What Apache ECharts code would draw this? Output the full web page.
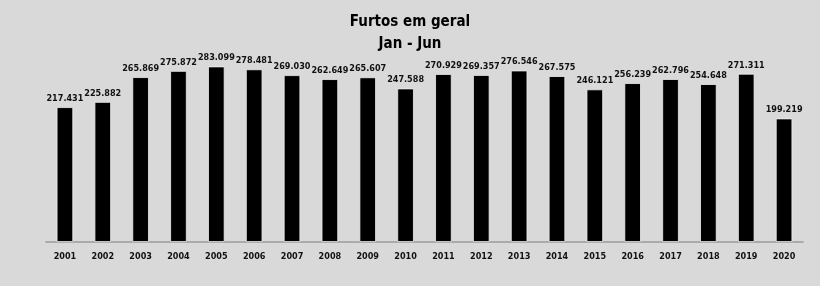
<!DOCTYPE html>
<html><head><meta charset="utf-8">
<script src="https://cdn.jsdelivr.net/npm/echarts@6/dist/echarts.min.js"></script>
<style>html,body{margin:0;padding:0;background:#d9d9d9}#c{width:820px;height:286px}</style>
</head><body><div id="c"></div>
<script>
const years = ['2001','2002','2003','2004','2005','2006','2007','2008','2009','2010','2011','2012','2013','2014','2015','2016','2017','2018','2019','2020'];
const furtos = [217431,225882,265869,275872,283099,278481,269030,262649,265607,247588,270929,269357,276546,267575,246121,256239,262796,254648,271311,199219];
const titleLines = ['Furtos em geral','Jan - Jun'];
const fmt = v => String(v).replace(/\B(?=(\d{3})+(?!\d))/g,'.');
const FONT = 'DejaVu Sans Condensed, Liberation Sans';
const chart = echarts.init(document.getElementById('c'));
chart.setOption({
  backgroundColor:'#d9d9d9',
  animation:false,
  title:{text:titleLines.join('\n'),left:'center',top:6,
    textStyle:{fontFamily:FONT,fontWeight:'bold',fontSize:15,color:'#000',lineHeight:22}},
  grid:{left:46,right:17,top:56,bottom:44},
  xAxis:{type:'category',data:years,
    axisLine:{lineStyle:{color:'#9a9a9a',width:1.5}},
    axisTick:{lineStyle:{color:'#9a9a9a'},length:4},
    axisLabel:{color:'#111',fontFamily:FONT,fontWeight:'bold',fontSize:9,margin:10}},
  yAxis:{type:'value',min:0,max:300000,show:false,splitLine:{show:false}},
  series:[{type:'bar',data:furtos,barWidth:16.5,
    itemStyle:{color:'#000',borderColor:'#eeeeee',borderWidth:0.8},
    label:{show:true,position:'top',distance:4,formatter:p=>fmt(p.value),color:'#111',
      fontFamily:FONT,fontWeight:'bold',fontSize:9}}]
});
</script></body></html>
